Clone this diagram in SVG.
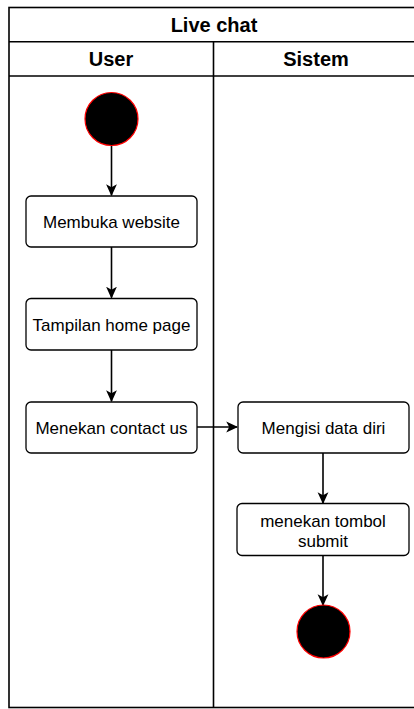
<svg xmlns="http://www.w3.org/2000/svg" width="414" height="709" viewBox="0 0 414 709">
<defs>
<style>
.lane{fill:none;stroke:#000;stroke-width:1.6}
.hdr{font-family:"Liberation Sans",Arial,sans-serif;font-size:20px;font-weight:bold;fill:#000;text-anchor:middle}
.box{fill:#fff;stroke:#000;stroke-width:1.3}
.lbl{font-family:"Liberation Sans",Arial,sans-serif;font-size:17px;fill:#000;text-anchor:middle}
.dot{fill:#000;stroke:#ff0000;stroke-width:1.2}
.edge{fill:none;stroke:#000;stroke-width:1.6;marker-end:url(#ah)}
</style>
<marker id="ah" viewBox="0 0 10 10" refX="9" refY="5" markerWidth="12" markerHeight="12" markerUnits="userSpaceOnUse" orient="auto">
<path d="M0,0.5 L10,5 L0,9.5 L2.5,5 Z" fill="#000"/>
</marker>
</defs>
<g id="pool">
<rect class="lane" x="9" y="7.5" width="412" height="700" fill="#fff"/>
<line class="lane" x1="9" y1="41.7" x2="421" y2="41.7"/>
<line class="lane" x1="9" y1="76" x2="421" y2="76"/>
<line class="lane" x1="213.5" y1="41.7" x2="213.5" y2="708"/>
<text class="hdr" x="214" y="31.5">Live chat</text>
<text class="hdr" x="111" y="66">User</text>
<text class="hdr" x="316" y="66">Sistem</text>
</g>
<g id="edges">
<line class="edge" x1="111.5" y1="146" x2="111.5" y2="195"/>
<line class="edge" x1="111.5" y1="247" x2="111.5" y2="297.5"/>
<line class="edge" x1="111.5" y1="350" x2="111.5" y2="401"/>
<line class="edge" x1="197" y1="427" x2="237" y2="427"/>
<line class="edge" x1="323" y1="453" x2="323" y2="503"/>
<line class="edge" x1="323" y1="556" x2="323" y2="605"/>
</g>
<g id="start"><circle class="dot" cx="111.5" cy="119" r="26.5"/></g>
<g id="n1"><rect class="box" x="26" y="196" width="171" height="51" rx="5"/><text class="lbl" x="111.5" y="228">Membuka website</text></g>
<g id="n2"><rect class="box" x="26" y="298.5" width="171" height="51.5" rx="5"/><text class="lbl" x="111.5" y="330.5">Tampilan home page</text></g>
<g id="n3"><rect class="box" x="26" y="402" width="171" height="51" rx="5"/><text class="lbl" x="111.5" y="434">Menekan contact us</text></g>
<g id="n4"><rect class="box" x="238" y="402" width="171" height="51" rx="5"/><text class="lbl" x="323.5" y="434">Mengisi data diri</text></g>
<g id="n5"><rect class="box" x="237" y="503.5" width="172" height="52" rx="5"/><text class="lbl" x="323" y="527">menekan tombol</text><text class="lbl" x="323" y="547">submit</text></g>
<g id="end"><circle class="dot" cx="323.5" cy="631.5" r="26.5"/></g>
</svg>
